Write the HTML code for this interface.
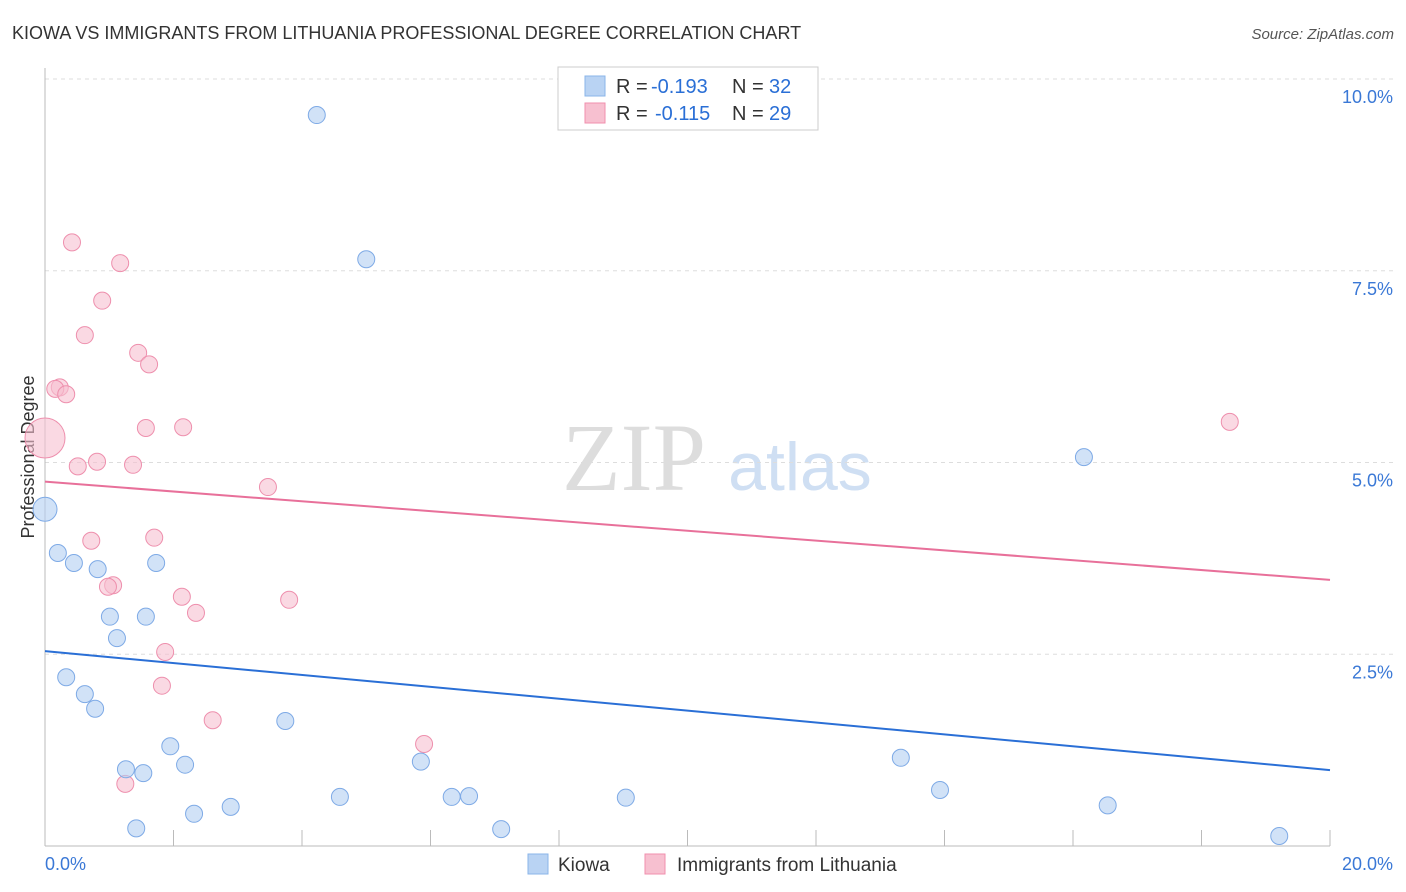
<!DOCTYPE html>
<html><head><meta charset="utf-8"><style>
body{margin:0;background:#fff;font-family:"Liberation Sans",sans-serif}
svg{display:block}
</style></head><body>
<svg width="1406" height="892" id="chart">
<text x="12" y="39" font-size="18" fill="#333">KIOWA VS IMMIGRANTS FROM LITHUANIA PROFESSIONAL DEGREE CORRELATION CHART</text>
<text x="1394" y="39" font-size="15" fill="#555" font-style="italic" text-anchor="end">Source: ZipAtlas.com</text>
<text x="634" y="490" font-size="96" fill="#ddd" font-family="Liberation Serif" text-anchor="middle">ZIP</text>
<text x="800" y="490" font-size="68" fill="#cfdff3" text-anchor="middle">atlas</text>
<text transform="translate(34,457) rotate(-90)" font-size="18" fill="#333" text-anchor="middle">Professional Degree</text>
<g id="grid"></g><g id="axes"></g><g id="lines"></g><g id="pts"></g>
<g>
<rect x="558" y="67" width="260" height="63" fill="#fff" stroke="#ccc"/>
<rect x="585" y="76" width="20" height="20" fill="#b9d3f3" stroke="#8ab4e8"/>
<rect x="585" y="103" width="20" height="20" fill="#f7c0d0" stroke="#f08fae"/>
<text x="616" y="93" font-size="20" fill="#333">R =</text>
<text x="651" y="93" font-size="20" fill="#2a6fd6">-0.193</text>
<text x="732" y="93" font-size="20" fill="#333">N =</text>
<text x="769" y="93" font-size="20" fill="#2a6fd6">32</text>
<text x="616" y="120" font-size="20" fill="#333">R =</text>
<text x="655" y="120" font-size="20" fill="#2a6fd6">-0.115</text>
<text x="732" y="120" font-size="20" fill="#333">N =</text>
<text x="769" y="120" font-size="20" fill="#2a6fd6">29</text>
</g>
<g>
<rect x="528" y="854" width="20" height="20" fill="#b9d3f3" stroke="#8ab4e8"/>
<text x="558" y="871" font-size="19" fill="#333">Kiowa</text>
<rect x="645" y="854" width="20" height="20" fill="#f7c0d0" stroke="#f08fae"/>
<text x="677" y="871" font-size="19" fill="#333">Immigrants from Lithuania</text>
</g>
</svg>
<script>
const blueX=[4.23,5.00,0,0.20,0.45,0.82,1.73,1.01,1.57,1.12,0.33,0.62,0.78,1.95,3.74,1.26,1.53,2.18,5.85,4.59,6.33,6.60,2.89,2.32,1.42,7.10,9.04,13.32,13.93,16.17,16.54,19.21];
const blueY=[9.53,7.65,4.39,3.82,3.69,3.61,3.69,2.99,2.99,2.71,2.20,1.98,1.79,1.30,1.63,1.00,0.95,1.06,1.10,0.64,0.64,0.65,0.51,0.42,0.23,0.22,0.63,1.15,0.73,5.07,0.53,0.13];
const pinkX=[0.42,1.17,0.89,0.62,1.45,1.62,0.23,0.16,0.33,0,1.57,2.15,0.51,0.81,1.37,3.47,0.72,1.70,1.06,0.98,2.13,2.35,3.80,1.87,1.82,2.61,5.90,1.25,18.44];
const pinkY=[7.87,7.60,7.11,6.66,6.43,6.28,5.98,5.96,5.89,5.32,5.45,5.46,4.95,5.01,4.97,4.68,3.98,4.02,3.40,3.38,3.25,3.04,3.21,2.53,2.09,1.64,1.33,0.81,5.53];
const blueTrend=[2.54,0.99];
const pinkTrend=[4.75,3.47];
const yTicks=[2.5,5,7.5,10];
const xTickLabels=["0.0%","20.0%"];
const sx=v=>45+v*64.25, sy=v=>846-v*76.7;
const NS="http://www.w3.org/2000/svg";
function mk(p,t,a){const e=document.createElementNS(NS,t);for(const k in a)e.setAttribute(k,a[k]);p.appendChild(e);return e;}
const g=document.getElementById('grid'),ax=document.getElementById('axes'),ln=document.getElementById('lines'),pt=document.getElementById('pts');
yTicks.forEach(v=>{
 const l=mk(g,'line',{x1:45,x2:1395,y1:sy(v),y2:sy(v),stroke:'#ddd','stroke-dasharray':'4,4'});
 
 
 const t=mk(g,'text',{x:1393,y:sy(v)+24,'font-size':18,fill:'#3a78d6','text-anchor':'end'});t.textContent=v.toFixed(1)+'%';
 
 
});
mk(ax,'line',{x1:45,x2:45,y1:68,y2:846,stroke:'#bbb'});
mk(ax,'line',{x1:45,x2:1330,y1:846,y2:846,stroke:'#bbb'});
for(let i=0;i<=10;i++){const l=mk(ax,'line',{x1:sx(i*2),x2:sx(i*2),y1:830,y2:846,stroke:'#bbb'});
 
 }
const t0=mk(ax,'text',{x:45,y:870,'font-size':18,fill:'#3a78d6'});t0.textContent=xTickLabels[0];


const t1=mk(ax,'text',{x:1393,y:870,'font-size':18,fill:'#3a78d6','text-anchor':'end'});t1.textContent=xTickLabels[1];


function dots(X,Y,fill,stroke,name,big){X.forEach((x,i)=>{
 const r=(x===0)?big:8.5;
 const c=mk(pt,'circle',{cx:sx(x),cy:sy(Y[i]),r:r,fill:fill,'fill-opacity':0.6,stroke:stroke,'stroke-width':1});
 
 
});}
dots(pinkX,pinkY,'#f7bfd0','#ee8fad','lithuania-point',20);
dots(blueX,blueY,'#b3cff2','#7eaae6','kiowa-point',12);
const bl=mk(ln,'line',{x1:sx(0),y1:sy(blueTrend[0]),x2:sx(20),y2:sy(blueTrend[1]),stroke:'#2a6fd6','stroke-width':2});


const pl=mk(ln,'line',{x1:sx(0),y1:sy(pinkTrend[0]),x2:sx(20),y2:sy(pinkTrend[1]),stroke:'#e8709a','stroke-width':2});


</script>
</body></html>
